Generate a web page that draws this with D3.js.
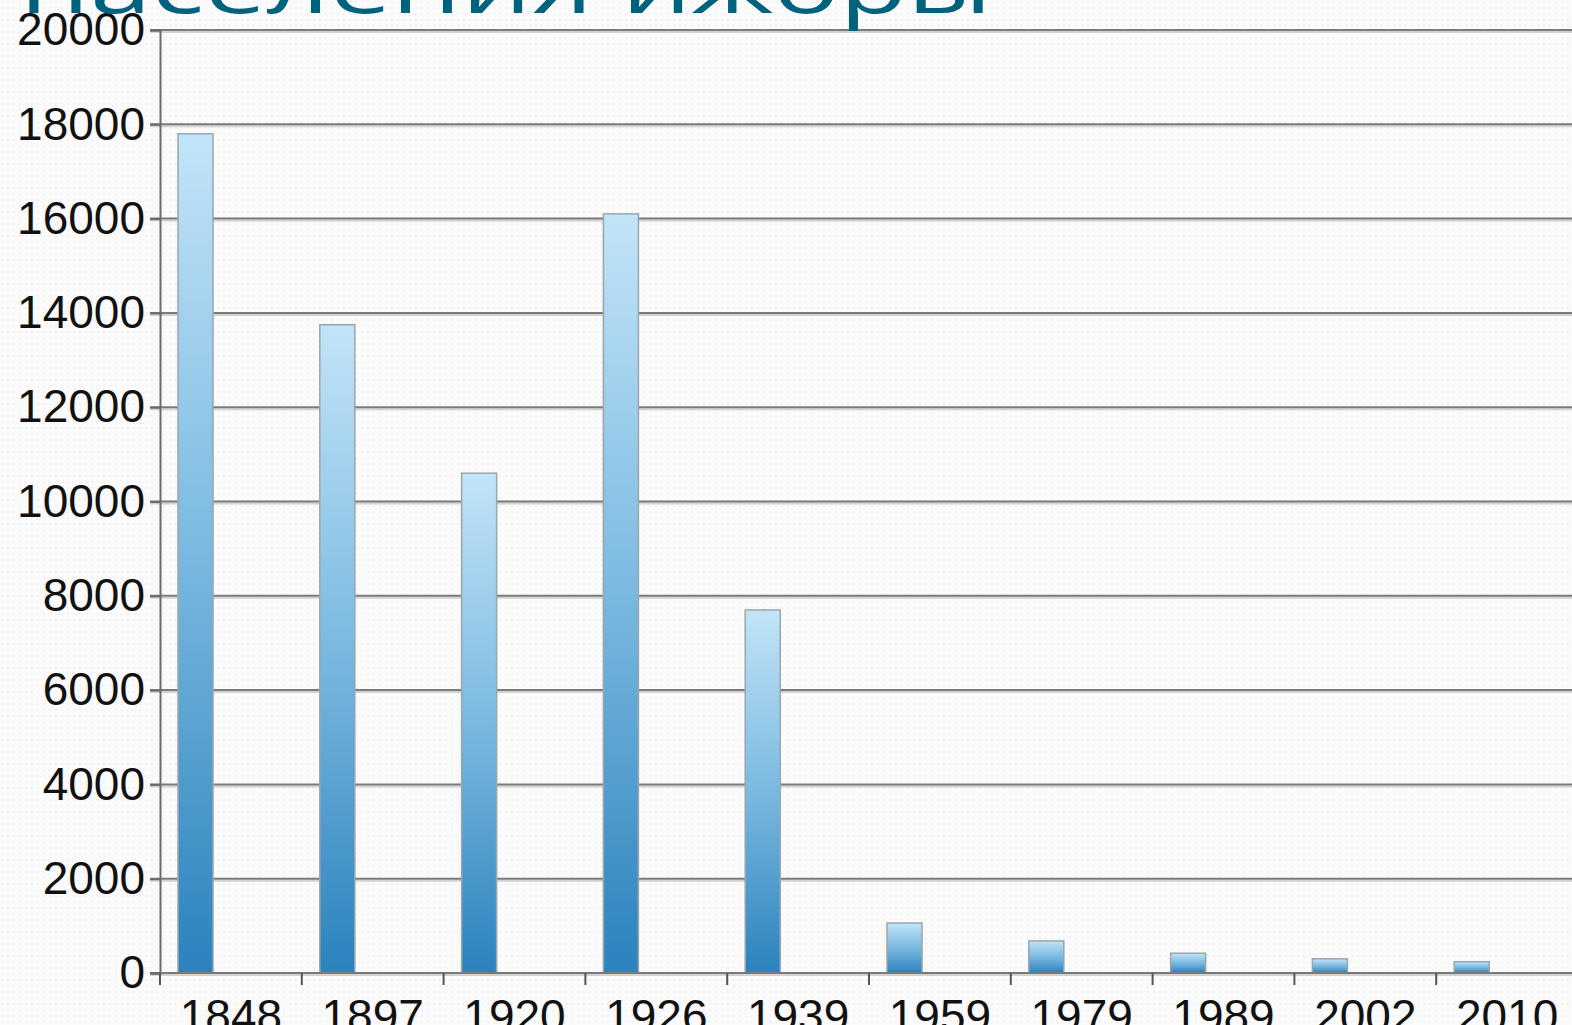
<!DOCTYPE html>
<html>
<head>
<meta charset="utf-8">
<script src="https://d3js.org/d3.v7.min.js"></script>
<style>
  html, body { margin:0; padding:0; background:#fbfbfb; overflow:hidden; }
  svg { display:block; }
</style>
</head>
<body>
<svg width="1572" height="1025"></svg>
<script>
// data
const titleText = 'населения ижоры';
const years = ['1848','1897','1920','1926','1939','1959','1979','1989','2002','2010'];
const population = [17800, 13750, 10600, 16100, 7700, 1060, 680, 420, 300, 240];
const yTicks = [0,2000,4000,6000,8000,10000,12000,14000,16000,18000,20000];

const data = years.map((y, i) => ({ year: y, value: population[i] }));

const svg = d3.select('svg');
const width = +svg.attr('width');
const height = +svg.attr('height');
const margin = { top:30, left:160, bottom:52 };
const plotBottom = height - margin.bottom;
const bandW = 141.8;

// background with faint dotted texture
const defs = svg.append('defs');
const pat = defs.append('pattern')
    .attr('id', 'dots').attr('width', 6).attr('height', 6)
    .attr('patternUnits', 'userSpaceOnUse');
pat.append('rect').attr('width', 6).attr('height', 6).attr('fill', '#fbfbfb');
pat.append('rect').attr('x', 1).attr('y', 1).attr('width', 2).attr('height', 2).attr('fill', '#f2f2f2');
svg.append('rect').attr('width', width).attr('height', height).attr('fill', 'url(#dots)');

const grad = defs.append('linearGradient')
    .attr('id', 'barGrad').attr('x1', 0).attr('y1', 0).attr('x2', 0).attr('y2', 1);
grad.append('stop').attr('offset', '0%').attr('stop-color', '#c2e4f8');
grad.append('stop').attr('offset', '50%').attr('stop-color', '#7ab9e0');
grad.append('stop').attr('offset', '100%').attr('stop-color', '#2b82bd');

//scales
const xScale = d3.scaleBand()
    .domain(years)
    .range([margin.left, margin.left + bandW * years.length])
    .padding(0);

const yScale = d3.scaleLinear()
    .domain([0, 20000])
    .range([plotBottom, margin.top]);

// gridlines (with a soft shadow line under each)
const grid = svg.append('g');
grid.selectAll('line.shadow').data(yTicks)
    .enter().append('line').attr('class', 'shadow')
    .attr('x1', margin.left - 10).attr('x2', width)
    .attr('y1', d => yScale(d) + 2).attr('y2', d => yScale(d) + 2)
    .attr('stroke', '#d2d2d2').attr('stroke-width', 2);
grid.selectAll('line.main').data(yTicks)
    .enter().append('line').attr('class', 'main')
    .attr('x1', margin.left - 10).attr('x2', width)
    .attr('y1', d => yScale(d)).attr('y2', d => yScale(d))
    .attr('stroke', '#7a7a7a').attr('stroke-width', 2);

// y axis
const yAxis = d3.axisLeft(yScale).tickValues(yTicks).tickSize(10).tickPadding(5).tickFormat(d3.format('d'));
const yG = svg.append('g')
    .attr('transform', `translate(${margin.left},0)`)
    .call(yAxis);
yG.select('.domain').attr('stroke', '#6a6a6a').attr('stroke-width', 2);
yG.selectAll('.tick line').attr('stroke', '#6a6a6a').attr('stroke-width', 2);
yG.selectAll('text')
    .attr('font-family', 'Liberation Sans, Arial, sans-serif')
    .attr('font-size', 46).attr('fill', '#111');

// bars
svg.append('g').selectAll('rect').data(data)
    .enter().append('rect')
    .attr('x', d => xScale(d.year) + xScale.bandwidth() * 0.127)
    .attr('y', d => yScale(d.value))
    .attr('width', xScale.bandwidth() * 0.247)
    .attr('height', d => plotBottom - yScale(d.value))
    .attr('fill', 'url(#barGrad)')
    .attr('stroke', '#9aa6ad').attr('stroke-width', 1.5);

// x axis
const xAxis = d3.axisBottom(xScale).tickSize(0).tickPadding(26);
const xG = svg.append('g')
    .attr('transform', `translate(0,${plotBottom})`)
    .call(xAxis);
xG.select('.domain').remove();
xG.append('line')
    .attr('x1', margin.left).attr('x2', width).attr('y1', 0).attr('y2', 0)
    .attr('stroke', '#7a7a7a').attr('stroke-width', 2);
xG.selectAll('text')
    .attr('font-family', 'Liberation Sans, Arial, sans-serif')
    .attr('font-size', 46).attr('fill', '#111')
    .attr('dy', '0.71em');
// tick marks sit at the band edges
xG.selectAll('line.edge').data(years)
    .enter().append('line').attr('class', 'edge')
    .attr('x1', d => xScale(d)).attr('x2', d => xScale(d))
    .attr('y1', 0).attr('y2', 12)
    .attr('stroke', '#555').attr('stroke-width', 2);

// title (cut off by the top edge)
svg.append('text')
    .attr('x', 20).attr('y', 13)
    .attr('font-family', 'Open Sans, sans-serif')
    .attr('font-size', 76)
    .attr('fill', '#00627d')
    .attr('textLength', 972)
    .attr('lengthAdjust', 'spacingAndGlyphs')
    .text(titleText);
</script>
</body>
</html>
